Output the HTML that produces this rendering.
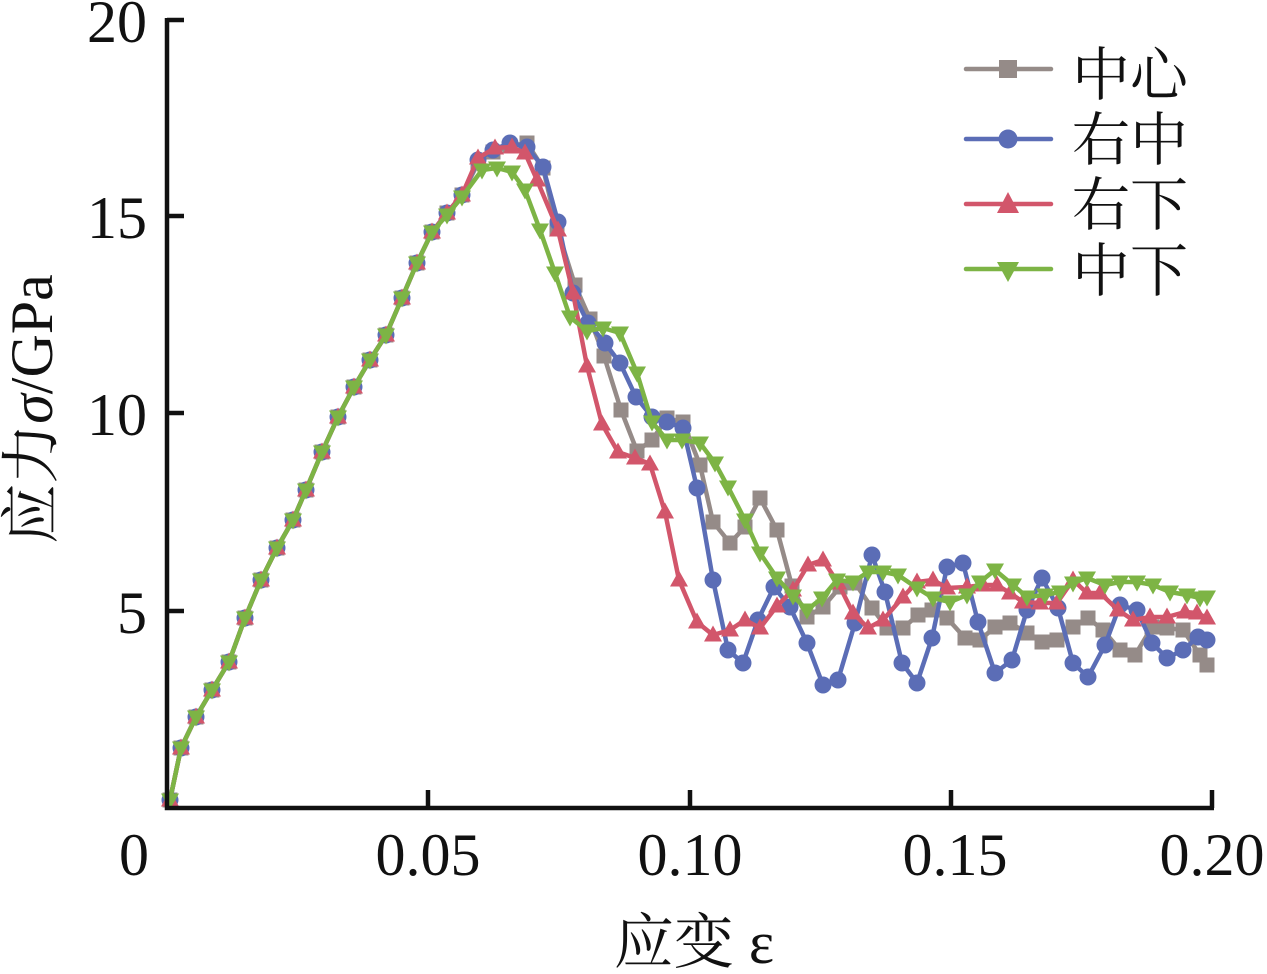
<!DOCTYPE html>
<html>
<head>
<meta charset="utf-8">
<style>
html,body{margin:0;padding:0;background:#fff;}
svg{display:block;}
text{font-family:"Liberation Serif","Noto Serif CJK SC",serif;fill:#111;}
</style>
</head>
<body>
<svg width="1267" height="974" viewBox="0 0 1267 974" xmlns="http://www.w3.org/2000/svg">
<defs>
  <marker id="mg" markerUnits="userSpaceOnUse" markerWidth="17" markerHeight="17" refX="8.5" refY="8.5" viewBox="0 0 17 17"><rect x="1" y="1" width="15" height="15" fill="#958b88"/></marker>
  <marker id="mb" markerUnits="userSpaceOnUse" markerWidth="19" markerHeight="19" refX="9.5" refY="9.5" viewBox="0 0 19 19"><circle cx="9.5" cy="9.5" r="8.5" fill="#5b6db6"/></marker>
  <marker id="mr" markerUnits="userSpaceOnUse" markerWidth="19" markerHeight="19" refX="9.5" refY="10.5" viewBox="0 0 19 19"><polygon points="9.5,1 18.5,17 0.5,17" fill="#d2566b"/></marker>
  <marker id="mgr" markerUnits="userSpaceOnUse" markerWidth="19" markerHeight="19" refX="9.5" refY="7.5" viewBox="0 0 19 19"><polygon points="0.5,1 18.5,1 9.5,17" fill="#7db445"/></marker>
</defs>

<!-- series -->
<g fill="none" stroke-width="4.5" stroke-linejoin="round" stroke-linecap="round">
<polyline stroke="#958b88" marker-start="url(#mg)" marker-mid="url(#mg)" marker-end="url(#mg)" points="170,800 181,748 196,717 212,690 229,662 245,618 261,580 277,548 293,520 306,490 322,452 338,417 354,387 370,360 386,335 402,298 417,263 432,232 447,213 462,195 478,163 493,152 510,146 527,143 543,168 557,228 575,285 590,319 604,356 621,410 637,451 652,440 667,418 683,422 700,465 713,522 730,543 745,527 760,498 777,530 792,586 807,617 823,607 840,587 855,583 872,608 887,628 903,628 918,615 932,610 947,618 965,638 980,640 995,627 1010,623 1027,633 1042,642 1057,640 1073,627 1088,618 1103,630 1120,650 1135,655 1152,627 1167,628 1183,630 1200,655 1207,665"/>
<polyline stroke="#5b6db6" marker-start="url(#mb)" marker-mid="url(#mb)" marker-end="url(#mb)" points="170,800 181,748 196,717 212,690 229,662 245,618 261,580 277,548 293,520 306,490 322,452 338,417 354,387 370,360 386,335 402,298 417,263 432,232 447,213 462,195 478,160 493,150 510,143 527,147 543,167 558,222 573,293 588,323 605,343 620,363 636,397 652,417 667,422 683,428 697,488 713,580 728,650 743,663 758,620 774,587 790,607 807,643 823,685 838,680 855,623 872,555 885,592 902,663 917,683 932,638 947,567 963,563 978,622 995,673 1012,660 1027,610 1042,578 1058,608 1073,663 1088,677 1105,645 1120,605 1137,610 1152,643 1167,658 1183,650 1198,637 1207,640"/>
<polyline stroke="#d2566b" marker-start="url(#mr)" marker-mid="url(#mr)" marker-end="url(#mr)" points="170,800 181,748 196,717 212,690 229,662 245,618 261,580 277,548 293,520 306,490 322,452 338,417 354,387 370,360 386,335 402,298 417,263 432,232 447,213 462,195 478,158 495,148 512,147 525,153 537,180 558,230 573,293 587,366 602,424 618,452 635,458 650,464 665,512 679,580 697,622 713,635 730,630 745,620 760,628 777,606 793,590 808,565 823,560 838,583 853,613 868,628 883,620 903,597 917,582 933,580 947,588 967,587 983,585 997,585 1010,593 1023,602 1040,603 1057,603 1073,580 1087,593 1100,593 1118,610 1133,620 1150,617 1167,617 1185,612 1197,613 1207,618"/>
<polyline stroke="#7db445" marker-start="url(#mgr)" marker-mid="url(#mgr)" marker-end="url(#mgr)" points="170,800 181,748 196,717 212,690 229,662 245,618 261,580 277,548 293,520 306,490 322,452 338,417 354,387 370,360 386,335 402,298 417,263 432,232 447,215 462,197 482,170 497,168 512,172 525,190 540,230 555,273 570,317 587,331 603,328 620,333 637,373 652,422 667,440 682,440 700,443 715,463 728,487 745,520 760,553 777,578 793,596 807,610 822,598 837,580 853,582 868,572 883,572 898,575 917,588 933,598 950,602 967,595 980,582 995,570 1013,585 1027,597 1045,595 1060,592 1073,583 1087,578 1105,585 1120,582 1137,582 1153,585 1170,592 1187,595 1200,598 1207,597"/>
</g>

<!-- axes -->
<g stroke="#111" stroke-width="4.5" fill="none">
  <polyline points="167,18 167,808 1214,808"/>
  <line x1="167" y1="20" x2="184" y2="20"/>
  <line x1="167" y1="216" x2="184" y2="216"/>
  <line x1="167" y1="413" x2="184" y2="413"/>
  <line x1="167" y1="611" x2="184" y2="611"/>
  <line x1="428" y1="808" x2="428" y2="790"/>
  <line x1="690" y1="808" x2="690" y2="790"/>
  <line x1="951" y1="808" x2="951" y2="790"/>
  <line x1="1212" y1="808" x2="1212" y2="790"/>
</g>

<!-- tick labels -->
<g font-size="60" text-anchor="end">
  <text x="147" y="42">20</text>
  <text x="147" y="238">15</text>
  <text x="147" y="435">10</text>
  <text x="147" y="633">5</text>
</g>
<g font-size="60" text-anchor="middle">
  <text x="134" y="875">0</text>
  <text x="428" y="875">0.05</text>
  <text x="690" y="875">0.10</text>
  <text x="955" y="875">0.15</text>
  <text x="1212" y="875">0.20</text>
</g>

<!-- axis titles -->
<text x="694" y="963" font-size="60" text-anchor="middle">应变 ε</text>
<text transform="translate(52,409) rotate(-90)" font-size="60" text-anchor="middle">应力<tspan font-style="italic">σ</tspan>/GPa</text>

<!-- legend -->
<g stroke-width="4.5" stroke-linecap="round">
  <line x1="966" y1="69" x2="1051" y2="69" stroke="#958b88"/>
  <line x1="966" y1="139" x2="1051" y2="139" stroke="#5b6db6"/>
  <line x1="966" y1="204" x2="1051" y2="204" stroke="#d2566b"/>
  <line x1="966" y1="269" x2="1051" y2="269" stroke="#7db445"/>
</g>
<rect x="999" y="60" width="18" height="18" fill="#958b88"/>
<circle cx="1008" cy="139" r="9.5" fill="#5b6db6"/>
<polygon points="1008,192 1019,213 997,213" fill="#d2566b"/>
<polygon points="997,262 1019,262 1008,282" fill="#7db445"/>
<g font-size="58">
  <text x="1072" y="95">中心</text>
  <text x="1072" y="160">右中</text>
  <text x="1072" y="225">右下</text>
  <text x="1072" y="291">中下</text>
</g>
</svg>
</body>
</html>
